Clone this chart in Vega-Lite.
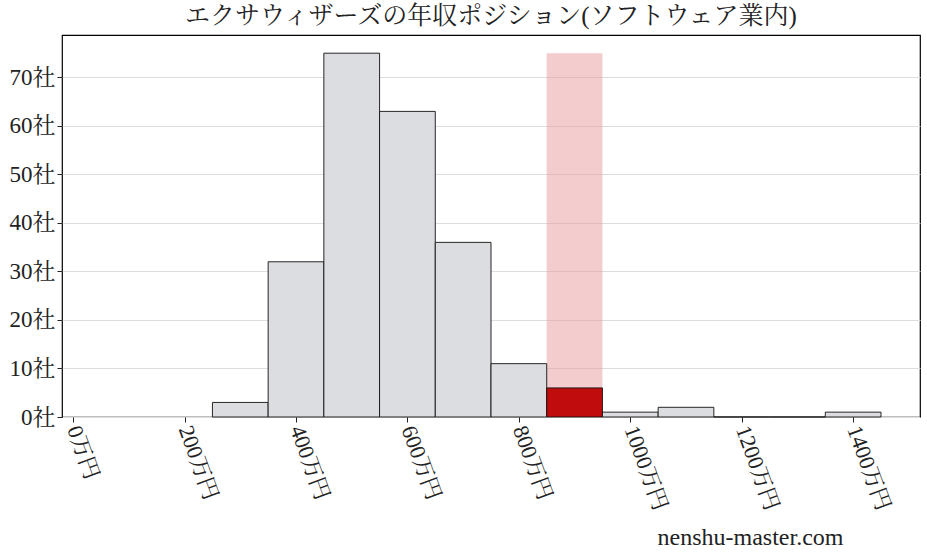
{
  "$schema": "https://vega.github.io/schema/vega-lite/v6.json",
  "width": 858,
  "height": 382,
  "padding": {"left": 62, "top": 35, "right": 7, "bottom": 140},
  "autosize": {"type": "none"},
  "background": "white",
  "config": {
    "font": "Liberation Serif, Noto Serif CJK JP, Noto Sans CJK JP",
    "view": {"stroke": "black", "strokeWidth": 1.2},
    "axis": {
      "labelFont": "Liberation Serif, Noto Serif CJK JP, Noto Sans CJK JP",
      "labelFontSize": 22,
      "labelColor": "#222",
      "tickColor": "#222",
      "tickSize": 5,
      "domain": false
    }
  },
  "title": {
    "text": "エクサウィザーズの年収ポジション(ソフトウェア業内)",
    "font": "Liberation Serif, Noto Serif CJK JP, Noto Sans CJK JP",
    "fontSize": 25,
    "fontWeight": "normal",
    "color": "#222",
    "anchor": "middle",
    "offset": 6
  },
  "datasets": {
    "bins": [
      {"start": 250, "end": 350, "count": 3, "mine": "no"},
      {"start": 350, "end": 450, "count": 32, "mine": "no"},
      {"start": 450, "end": 550, "count": 75, "mine": "no"},
      {"start": 550, "end": 650, "count": 63, "mine": "no"},
      {"start": 650, "end": 750, "count": 36, "mine": "no"},
      {"start": 750, "end": 850, "count": 11, "mine": "no"},
      {"start": 850, "end": 950, "count": 6, "mine": "yes"},
      {"start": 950, "end": 1050, "count": 1, "mine": "no"},
      {"start": 1050, "end": 1150, "count": 2, "mine": "no"},
      {"start": 1150, "end": 1250, "count": 0, "mine": "no"},
      {"start": 1250, "end": 1350, "count": 0, "mine": "no"},
      {"start": 1350, "end": 1450, "count": 1, "mine": "no"}
    ],
    "band": [
      {"start": 850, "end": 950, "low": 0, "high": 75}
    ]
  },
  "layer": [
    {
      "data": {"name": "band"},
      "mark": {"type": "rect", "color": "#e89a9c", "opacity": 0.5},
      "encoding": {
        "x": {
          "field": "start",
          "type": "quantitative",
          "scale": {"domain": [-20, 1520], "nice": false, "zero": false},
          "axis": {
            "values": [0, 200, 400, 600, 800, 1000, 1200, 1400],
            "labelExpr": "datum.value + '万円'",
            "labelAngle": 70,
            "labelAlign": "left",
            "labelBaseline": "middle",
            "labelPadding": 4,
            "grid": false,
            "title": "nenshu-master.com",
            "titleFont": "Liberation Serif, Noto Serif CJK JP",
            "titleFontSize": 24,
            "titleFontWeight": "normal",
            "titleColor": "#222",
            "titleAlign": "center",
            "titleBaseline": "alphabetic",
            "titleX": 688,
            "titleY": 127
          }
        },
        "x2": {"field": "end"},
        "y": {
          "field": "low",
          "type": "quantitative",
          "scale": {"domain": [0, 78.75], "nice": false},
          "axis": {
            "values": [0, 10, 20, 30, 40, 50, 60, 70],
            "labelExpr": "datum.value + '社'",
            "labelFontSize": 23,
            "grid": true,
            "gridColor": "#dddddd",
            "gridWidth": 1,
            "title": null
          }
        },
        "y2": {"field": "high"}
      }
    },
    {
      "data": {"name": "bins"},
      "mark": {"type": "rect", "stroke": "#111", "strokeWidth": 0.9},
      "encoding": {
        "x": {"field": "start", "type": "quantitative"},
        "x2": {"field": "end"},
        "y": {"field": "count", "type": "quantitative"},
        "y2": {"datum": 0},
        "color": {
          "field": "mine",
          "type": "nominal",
          "scale": {"domain": ["no", "yes"], "range": ["#dcdde0", "#c00c0c"]},
          "legend": null
        }
      }
    }
  ]
}
